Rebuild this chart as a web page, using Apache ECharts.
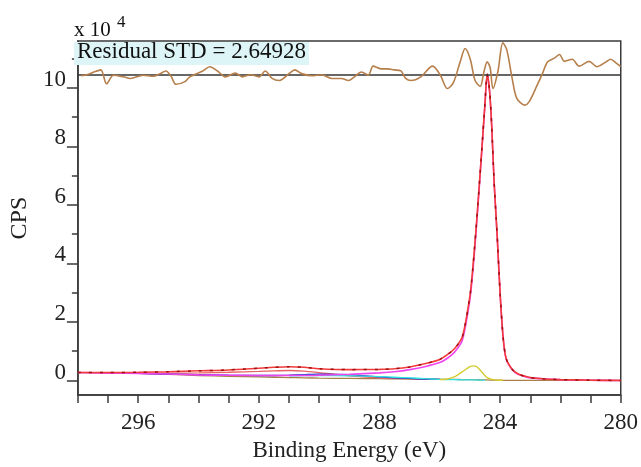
<!DOCTYPE html>
<html>
<head>
<meta charset="utf-8">
<script src="https://cdn.jsdelivr.net/npm/echarts@6/dist/echarts.min.js"></script>
<style>
html,body{margin:0;padding:0;background:#fff;}
#chart{width:641px;height:467px;}
</style>
</head>
<body>
<div id="chart"></div>
<script>
// Binding energy grid (eV)
const energy = [298, 297, 296, 295, 294, 293, 292, 291.5, 291, 290.5, 290, 289, 288, 287.5, 287, 286.5, 286, 285.75, 285.5, 285.25, 285.0, 284.9, 284.8, 284.7, 284.6, 284.5, 284.43, 284.35, 284.28, 284.2, 284.1, 284.0, 283.9, 283.8, 283.6, 283.4, 283.2, 283.0, 282.5, 282, 281, 280];
// Fit envelope (x 10^4 CPS)
const fitEnvelope = [0.27,0.27,0.28,0.30,0.33,0.36,0.42,0.45,0.47,0.45,0.40,0.37,0.38,0.40,0.46,0.57,0.72,0.88,1.1,1.5,2.9,3.9,5.15,6.55,8.0,9.5,10.47,9.9,8.73,6.8,5.0,2.97,1.47,0.75,0.38,0.22,0.15,0.10,0.05,0.03,0.01,0.0];
// Main C–C component (magenta)
const mainComponent = [0.27,0.25,0.24,0.22,0.19,0.18,0.17,0.17,0.17,0.17,0.18,0.21,0.26,0.30,0.37,0.47,0.61,0.76,0.98,1.38,2.78,3.78,5.05,6.47,7.95,9.45,10.45,9.88,8.72,6.79,4.98,2.96,1.46,0.74,0.37,0.21,0.14,0.09,0.05,0.03,0.01,0.0];
// Small component (yellow)
const yellowComponent = [null,null,null,null,null,null,null,null,null,null,null,null,null,null,null,null,0.03,0.05,0.13,0.3,0.47,0.5,0.48,0.4,0.28,0.16,0.1,0.06,0.04,0.02,0.01,0.01,0.01,null,null,null,null,null,null,null,null,null];
// Broad component (cyan)
const cyanComponent = [null,null,null,null,null,null,null,null,0.16,0.17,0.17,0.16,0.13,0.11,0.09,0.06,0.04,0.03,0.03,0.02,0.02,0.02,0.02,0.015,0.015,0.01,null,null,null,null,null,null,null,null,null,null,null,null,null,null,null,null];
// Broad component (blue)
const blueComponent = [null,0.26,0.24,0.22,0.2,0.18,0.17,0.17,0.18,0.2,0.22,0.2,0.12,0.09,0.07,0.05,0.04,null,null,null,null,null,null,null,null,null,null,null,null,null,null,null,null,null,null,null,null,null,null,null,null,null];
// Shake-up component (salmon)
const shakeupComponent = [null,0.27,0.26,0.25,0.26,0.28,0.31,0.33,0.34,0.32,0.27,0.16,0.09,0.07,0.06,0.05,0.045,null,null,null,null,null,null,null,null,null,null,null,null,null,null,null,null,null,null,null,null,null,null,null,null,null];
// Background
const backgroundLine = [0.27,0.26,0.24,0.21,0.17,0.14,0.12,0.11,0.10,0.09,0.08,0.07,0.06,0.055,0.05,0.045,0.04,0.035,0.035,0.03,0.03,0.03,0.025,0.025,0.02,0.02,0.02,0.015,0.015,0.01,0.01,0.01,0.005,0.005,0.0,0.0,0.0,0.0,0.0,0.0,0.0,0.0];
// Residual trace
const residualEnergy = [297.90,297.70,297.47,297.24,297.05,296.82,296.49,296.26,295.83,295.50,295.27,295.08,294.91,294.75,294.45,294.29,293.86,293.63,293.37,293.11,292.78,292.55,292.28,291.99,291.79,291.56,291.33,291.00,290.81,290.58,290.25,289.92,289.59,289.26,289.03,288.83,288.60,288.37,288.21,287.95,287.72,287.52,287.29,287.13,286.96,286.63,286.24,285.98,285.75,285.55,285.32,285.16,284.99,284.83,284.66,284.53,284.43,284.33,284.24,284.07,283.91,283.78,283.61,283.45,283.18,283.02,282.79,282.59,282.43,282.20,282.03,281.87,281.61,281.38,281.05,280.79,280.49,280.33,280.16,280.00];
const residualValues = [-0.05,0.05,0.3,0.5,-0.8,0,-0.15,-0.3,0,-0.1,0.15,0.4,-0.1,-0.85,-0.6,-0.15,0.4,0.8,0.4,-0.15,0.2,-0.15,0.05,-0.15,0.4,-0.3,-0.5,0.15,0.5,0.15,-0.05,0.05,-0.3,-0.3,-0.5,-0.15,0.3,0,0.85,0.6,0.6,0.5,0.4,-0.3,-0.5,-0.15,0.85,0,-1.25,-0.7,1.3,2.5,1.5,-0.5,-1.05,0.4,1.25,0.7,-1.25,0.4,3.05,2.4,-0.15,-2.15,-2.8,-2.4,-1.05,0.2,1.25,1.6,1.95,1.3,1.5,0.85,1.3,0.8,1.25,1.5,1.15,0.8];
// Tick labels
const xTickLabels = [296, 292, 288, 284, 280];
const yTickLabels = [0, 2, 4, 6, 8, 10];
const yMinorTicks = [1, 3, 5, 7, 9, 11];
const residualText = 'Residual STD = 2.64928';

const FONT = "'Liberation Serif', 'DejaVu Serif', serif";
const AX = '#3a3a3a';

function pairs(xs, ys) {
  return xs.map((e, i) => [e, ys[i]]).filter(p => p[1] !== null && p[1] !== undefined);
}
function line(name, ys, color, width, extra) {
  return Object.assign({
    name: name, type: 'line', data: pairs(energy, ys), showSymbol: false, symbol: 'none',
    smooth: 0.25, lineStyle: { color: color, width: width }, z: 3, silent: true
  }, extra || {});
}

const chart = echarts.init(document.getElementById('chart'), null, { renderer: 'canvas' });
chart.setOption({
  animation: false,
  backgroundColor: '#ffffff',
  grid: { left: 74, right: 19, top: 41, bottom: 63, show: true, borderColor: AX, borderWidth: 1.5, containLabel: false },
  xAxis: {
    type: 'value', min: 280, max: 298, interval: 1, inverse: true,
    axisLine: { show: true, onZero: false, lineStyle: { color: AX, width: 1.5 } },
    axisTick: { show: true, inside: false, length: 8, lineStyle: { color: AX, width: 1.5 } },
    splitLine: { show: false },
    axisLabel: {
      margin: 16, fontFamily: FONT, fontSize: 23, color: '#222', lineHeight: 23,
      formatter: v => (xTickLabels.indexOf(v) >= 0 ? String(v) : '')
    },
    name: 'Binding Energy (eV)', nameLocation: 'middle', nameGap: 42,
    nameTextStyle: { fontFamily: FONT, fontSize: 23, color: '#222' }
  },
  yAxis: [
    {
      type: 'value', min: -0.5, max: 11.6, position: 'left',
      axisLine: { show: true, onZero: false, lineStyle: { color: AX, width: 1.5 } },
      axisTick: { show: true, length: 11, customValues: yTickLabels, lineStyle: { color: AX, width: 1.5 } },
      axisLabel: { customValues: yTickLabels, margin: 12, fontFamily: FONT, fontSize: 23, color: '#222', verticalAlign: 'bottom', lineHeight: 16 },
      splitLine: { show: false },
      name: 'CPS', nameLocation: 'middle', nameGap: 42, nameRotate: 90,
      nameTextStyle: { fontFamily: FONT, fontSize: 24, color: '#222' }
    },
    {
      type: 'value', min: -0.5, max: 11.6, position: 'left', offset: 0,
      axisLine: { show: false, onZero: false },
      axisTick: { show: true, length: 6, customValues: yMinorTicks, lineStyle: { color: AX, width: 1.5 } },
      axisLabel: { show: false },
      splitLine: { show: false }
    },
    {
      type: 'value', min: -30, max: 3.21, position: 'left', offset: 0, show: false,
      axisLine: { onZero: false },
      splitLine: { show: false }
    }
  ],
  graphic: [
    { type: 'rect', left: 74, top: 42, shape: { width: 235, height: 23 }, style: { fill: '#def5f8' }, z: 1, silent: true },
    { type: 'text', x: 77, y: 52, style: { text: residualText, font: '23px ' + FONT, fill: '#111', textVerticalAlign: 'middle' }, z: 10, silent: true },
    { type: 'text', x: 74, y: 30, style: { text: 'x 10', font: '21px ' + FONT, fill: '#111', textVerticalAlign: 'middle' }, z: 10, silent: true },
    { type: 'text', x: 117, y: 23, style: { text: '4', font: '17px ' + FONT, fill: '#111', textVerticalAlign: 'middle' }, z: 10, silent: true }
  ],
  series: [
    line('Background', backgroundLine, '#a98048', 1.3),
    line('Shake-up', shakeupComponent, '#e86464', 1.3),
    line('Blue', blueComponent, '#2424c4', 1.3),
    line('Cyan', cyanComponent, '#30e4e4', 1.3),
    line('Yellow', yellowComponent, '#d4cc30', 1.4),
    line('Main', mainComponent, '#ee46ee', 1.6),
    line('Envelope', fitEnvelope, '#f23c3c', 1.6),
    line('Data', fitEnvelope, '#a01010', 1.5, { lineStyle: { color: '#a01010', width: 1.5, type: [3, 8] }, z: 4 }),
    {
      name: 'Residual', type: 'line', yAxisIndex: 2, data: pairs(residualEnergy, residualValues),
      showSymbol: false, symbol: 'none', smooth: 0.3, silent: true,
      lineStyle: { color: '#b67f4b', width: 1.6 }, z: 5,
      markLine: {
        silent: true, symbol: ['none', 'none'], label: { show: false },
        lineStyle: { color: '#333', width: 1.5, type: 'solid' },
        data: [{ yAxis: 0 }]
      }
    }
  ]
});
</script>
</body>
</html>
